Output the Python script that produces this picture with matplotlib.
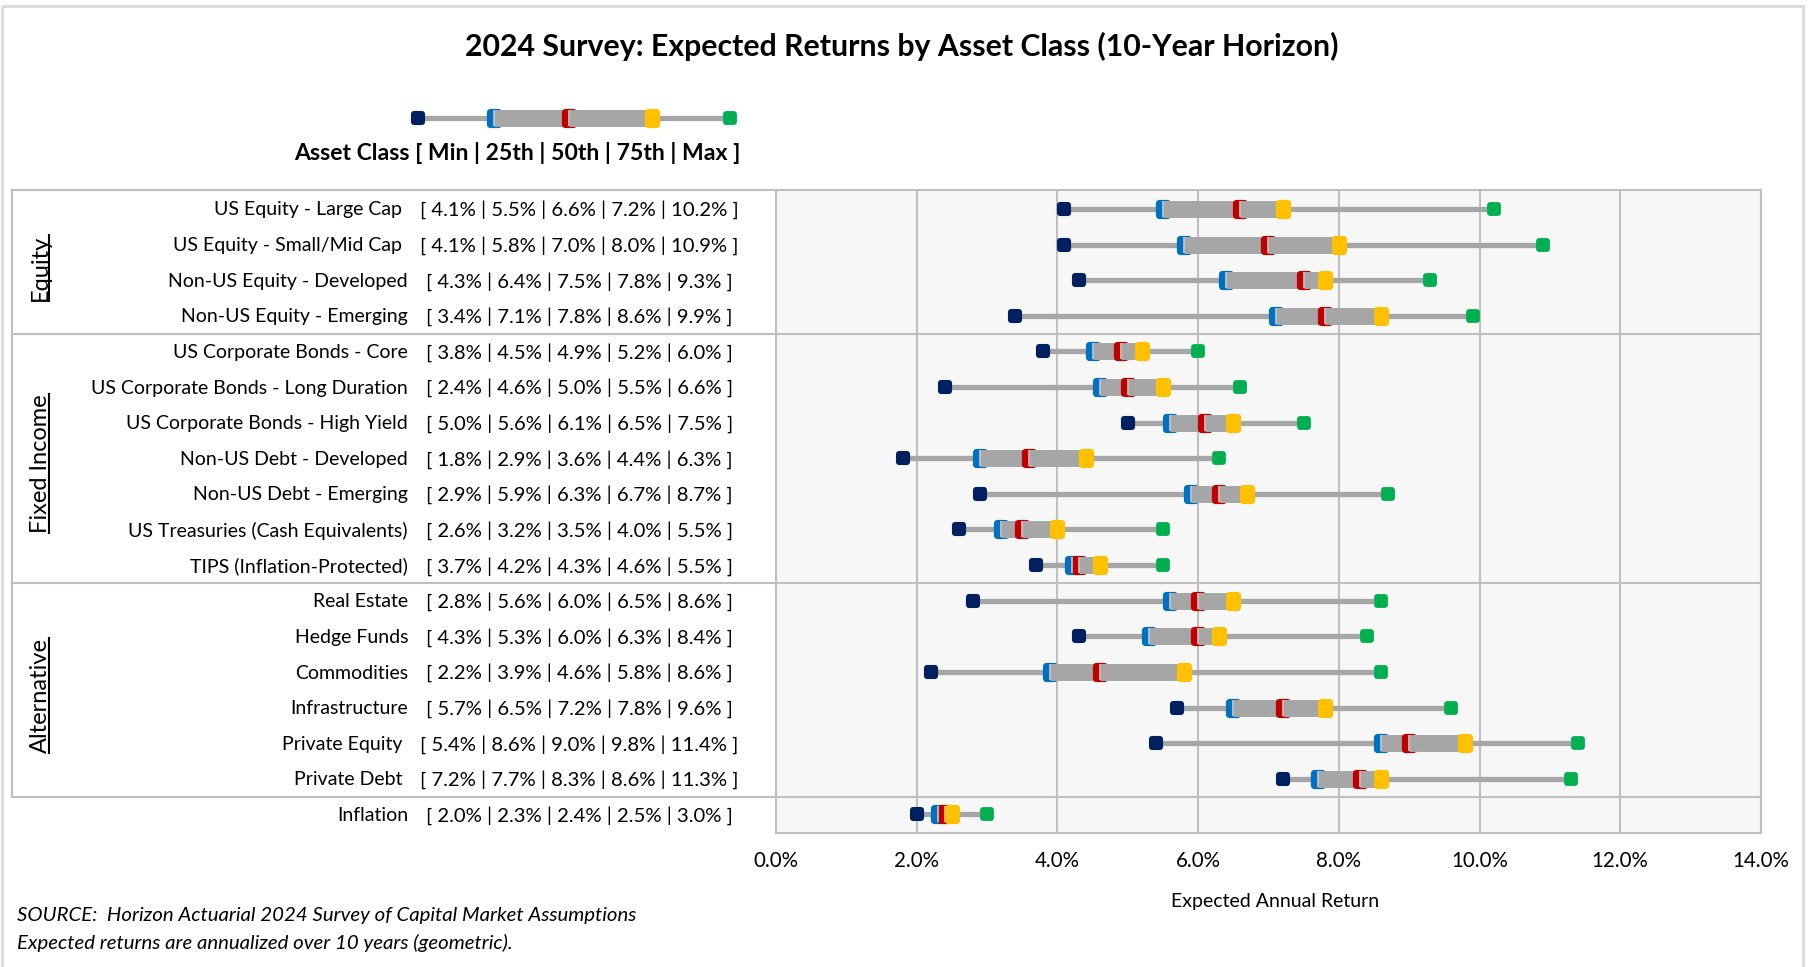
import matplotlib.pyplot as plt
from matplotlib.markers import MarkerStyle
from matplotlib.path import Path
from matplotlib.patches import Rectangle

W, H = 1809, 967

# rows top to bottom
categories = [
    "US Equity - Large Cap", "US Equity - Small/Mid Cap",
    "Non-US Equity - Developed", "Non-US Equity - Emerging",
    "US Corporate Bonds - Core", "US Corporate Bonds - Long Duration",
    "US Corporate Bonds - High Yield", "Non-US Debt - Developed",
    "Non-US Debt - Emerging", "US Treasuries (Cash Equivalents)",
    "TIPS (Inflation-Protected)",
    "Real Estate", "Hedge Funds", "Commodities", "Infrastructure",
    "Private Equity", "Private Debt",
    "Inflation",
]
groups = ["Equity", "Fixed Income", "Alternative"]
group_sizes = [4, 7, 6]

p_min = [4.1, 4.1, 4.3, 3.4, 3.8, 2.4, 5.0, 1.8, 2.9, 2.6, 3.7, 2.8, 4.3, 2.2, 5.7, 5.4, 7.2, 2.0]
p25 = [5.5, 5.8, 6.4, 7.1, 4.5, 4.6, 5.6, 2.9, 5.9, 3.2, 4.2, 5.6, 5.3, 3.9, 6.5, 8.6, 7.7, 2.3]
p50 = [6.6, 7.0, 7.5, 7.8, 4.9, 5.0, 6.1, 3.6, 6.3, 3.5, 4.3, 6.0, 6.0, 4.6, 7.2, 9.0, 8.3, 2.4]
p75 = [7.2, 8.0, 7.8, 8.6, 5.2, 5.5, 6.5, 4.4, 6.7, 4.0, 4.6, 6.5, 6.3, 5.8, 7.8, 9.8, 8.6, 2.5]
p_max = [10.2, 10.9, 9.3, 9.9, 6.0, 6.6, 7.5, 6.3, 8.7, 5.5, 5.5, 8.6, 8.4, 8.6, 9.6, 11.4, 11.3, 3.0]

x_ticks = [0, 2, 4, 6, 8, 10, 12, 14]

NAVY = "#002060"
BLUE = "#0070C0"
RED = "#C00000"
GOLD = "#FFC000"
GREEN = "#00B050"
GRAY = "#A6A6A6"
LINE = "#BFBFBF"

plt.rcParams['font.family'] = ['Lato', 'DejaVu Sans']
FS = 14

sq = MarkerStyle('s', joinstyle='round')
tall = MarkerStyle(Path([(-0.38, -0.5), (0.38, -0.5), (0.38, 0.5), (-0.38, 0.5), (-0.38, -0.5)], closed=True),
                   joinstyle='round')


def mk(ax, x, y, shape, color, ms, mew, z):
    ax.plot([x], [y], ls='none', marker=shape, ms=ms, mfc=color, mec=color, mew=mew, zorder=z)


def draw_box(ax, y, lo, a, m, b, hi, z=3):
    ax.plot([lo, hi], [y, y], color=GRAY, lw=3.8, solid_capstyle='butt', zorder=z)
    mk(ax, a, y, tall, BLUE, 8, 5.2, z + 1)
    ax.plot([a, m], [y, y], color=GRAY, lw=12.2, solid_capstyle='butt', zorder=z + 2)
    mk(ax, m, y, tall, RED, 8, 5.2, z + 3)
    ax.plot([m, b], [y, y], color=GRAY, lw=12.2, solid_capstyle='butt', zorder=z + 4)
    ax.plot([a, m], [y, y], ls='none', marker='|', ms=12, mew=1.1, color="#D4D4D4", zorder=z + 5)
    mk(ax, b, y, tall, GOLD, 8, 5.2, z + 6)
    mk(ax, lo, y, sq, NAVY, 5.8, 4.4, z + 6)
    mk(ax, hi, y, sq, GREEN, 5.5, 4.2, z + 6)


fig = plt.figure(figsize=(W / 100, H / 100), dpi=100)

# background axes in pixel coordinates
bg = fig.add_axes([0, 0, 1, 1], zorder=-1)
bg.set_xlim(0, W)
bg.set_ylim(H, 0)
bg.axis('off')
bg.add_patch(Rectangle((2, 6), 1801, 970, fill=False, ec="#D9D9D9", lw=2))

bg.text(902, 46, "2024 Survey: Expected Returns by Asset Class (10-Year Horizon)",
        ha='center', va='center', fontsize=21.8, fontweight='bold')

# legend sample
draw_box(bg, 118, 418, 494, 569, 652, 730)
bg.text(740, 153, "Asset Class [ Min | 25th | 50th | 75th | Max ]",
        ha='right', va='center', fontsize=16.6, fontweight='bold')

bg.text(17, 915, "SOURCE:  Horizon Actuarial 2024 Survey of Capital Market Assumptions",
        ha='left', va='center', fontsize=14.7, style='italic')
bg.text(17, 943, "Expected returns are annualized over 10 years (geometric).",
        ha='left', va='center', fontsize=14.7, style='italic')
bg.text(1275, 901, "Expected Annual Return", ha='center', va='center', fontsize=14)

# main plot area
left, right, top, bottom = 776, 1761, 190, 833
ax = fig.add_axes([left / W, (H - bottom) / H, (right - left) / W, (bottom - top) / H])
ax.set_facecolor("#F7F7F7")
ax.set_xlim(0, 14)
ax.set_ylim(17.52, -0.53)
ax.set_xticks(x_ticks)
ax.set_xticklabels([f"{t:.1f}%" for t in x_ticks], fontsize=14.8)
ax.set_yticks([])
ax.tick_params(axis='x', length=0, pad=13)
ax.grid(axis='x', color=LINE, lw=1.5)
ax.set_axisbelow(True)
for s in ax.spines.values():
    s.set_color(LINE)
    s.set_linewidth(1.5)

n = len(categories)
for i in range(n):
    draw_box(ax, i, p_min[i], p25[i], p50[i], p75[i], p_max[i])

# left label table
tw = left - 11.5
tab = fig.add_axes([11.5 / W, (H - bottom) / H, tw / W, (bottom - top) / H], sharey=ax)
tab.set_xlim(0, tw)
tab.axis('off')

seps = []
acc = 0
for g in group_sizes:
    acc += g
    seps.append(acc - 0.5)

for y in seps:
    tab.plot([0, tw], [y, y], color=LINE, lw=1.5, clip_on=False)
    ax.axhline(y, color=LINE, lw=1.5)
tab.plot([0, 0], [-0.53, seps[-1]], color=LINE, lw=1.5, clip_on=False)
tab.plot([0, tw], [-0.53, -0.53], color=LINE, lw=1.5, clip_on=False)

for i in range(n):
    br = "[ " + " | ".join(f"{v:.1f}%" for v in [p_min[i], p25[i], p50[i], p75[i], p_max[i]]) + " ]"
    t = tab.text(568, i + 0.03, br, ha='center', va='center', fontsize=14.6)
    tab.annotate(categories[i], xy=(0, 0.5), xycoords=t, xytext=(-13, 0),
                 textcoords='offset points', ha='right', va='center', fontsize=FS)

glabels = []
start = 0
for g, sz in zip(groups, group_sizes):
    c = start + (sz - 1) / 2 + 0.15
    glabels.append(tab.text(29, c, g, rotation=90, ha='center', va='center', fontsize=17))
    start += sz

fig.canvas.draw()
r = fig.canvas.get_renderer()
for t in glabels:
    bb = t.get_window_extent(r)
    bg.plot([bb.x1 - 2, bb.x1 - 2], [H - bb.y1, H - bb.y0], color='black', lw=1.5)

fig.savefig("out.png", dpi=100)
